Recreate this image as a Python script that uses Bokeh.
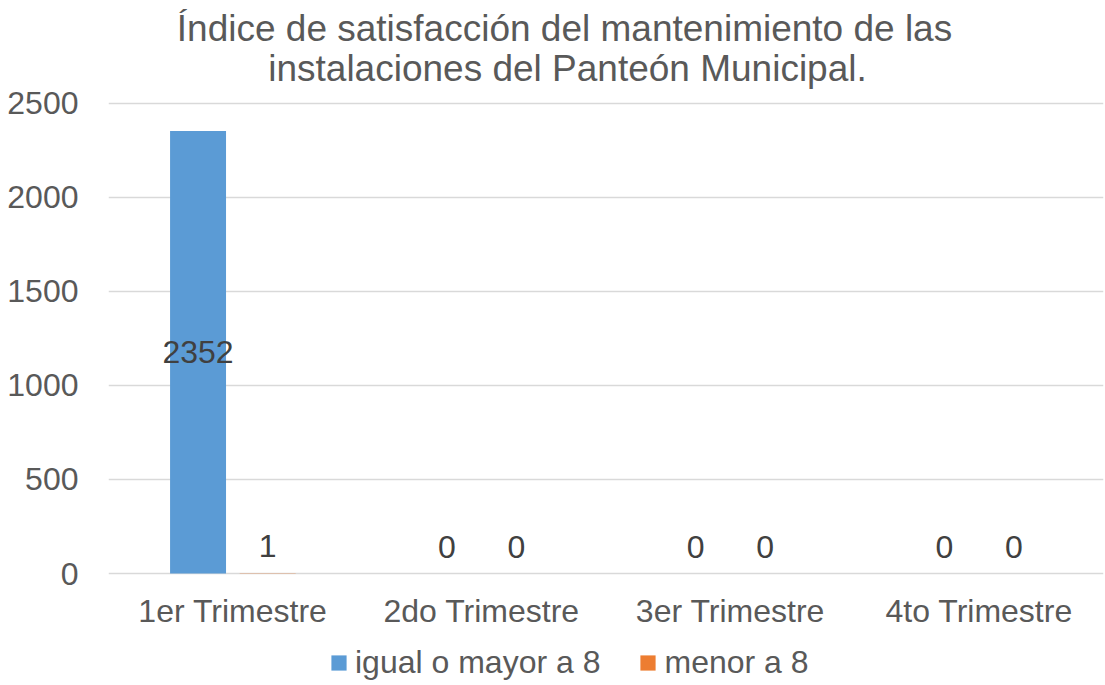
from bokeh.plotting import figure
from bokeh.models import (ColumnDataSource, FactorRange, Legend, LegendItem, Label,
                          FixedTicker, Range1d)
from bokeh.core.properties import value
from bokeh.transform import dodge
from bokeh.embed import file_html
from bokeh.resources import INLINE

categories = ["1er Trimestre", "2do Trimestre", "3er Trimestre", "4to Trimestre"]
igual_o_mayor = [2352, 0, 0, 0]
menor = [1, 0, 0, 0]
series_names = ["igual o mayor a 8", "menor a 8"]
title_lines = ["Índice de satisfacción del mantenimiento de las",
               "instalaciones del Panteón Municipal."]
y_ticks = [0, 500, 1000, 1500, 2000, 2500]

FONT = "Liberation Sans"
BLUE = "#5B9BD5"
ORANGE = "#ED7D31"
TXT = "#595959"

def label_cols(vals):
    ys = [v / 2 if v > 200 else v for v in vals]
    offs = [0 if v > 200 else -27 for v in vals]
    return ys, offs

y1, o1 = label_cols(igual_o_mayor)
y2, o2 = label_cols(menor)
src = ColumnDataSource(dict(cat=categories, a=igual_o_mayor, b=menor,
                            ay=y1, ao=o1, by=y2, bo=o2,
                            at=[str(v) for v in igual_o_mayor],
                            bt=[str(v) for v in menor],
                            base=[0] * len(categories)))

# the frame spans the whole canvas height so that the title, the category
# labels and the legend can be drawn inside it; 0 sits 112px above the bottom
p = figure(x_range=FactorRange(*categories, range_padding=0),
           y_range=Range1d(-595, 3045),
           width=1105, height=685, output_backend="svg", toolbar_location=None,
           title=None, x_axis_location=None,
           min_border_left=108, min_border_right=2,
           min_border_top=0, min_border_bottom=0)
p.outline_line_color = None
p.background_fill_color = "white"
p.border_fill_color = "white"

r1 = p.vbar(x=dodge("cat", -0.14, range=p.x_range), top="a", width=0.225,
            source=src, color=BLUE, line_color=None)
r2 = p.vbar(x=dodge("cat", 0.14, range=p.x_range), top="b", width=0.225,
            source=src, color=ORANGE, line_color=None)

for xo, yc, oc, tc in [(-0.14, "ay", "ao", "at"), (0.14, "by", "bo", "bt")]:
    p.text(x=dodge("cat", xo, range=p.x_range), y=yc, text=tc, y_offset=oc,
           source=src, text_align="center", text_baseline="middle",
           text_font=value(FONT), text_font_size="32px", text_color="#404040")

# category labels under the baseline
p.text(x="cat", y="base", text="cat", y_offset=37, source=src,
       text_align="center", text_baseline="middle",
       text_font=value(FONT), text_font_size="32px", text_color=TXT)

p.yaxis.ticker = FixedTicker(ticks=y_ticks)
p.yaxis.axis_line_color = None
p.yaxis.major_tick_line_color = None
p.yaxis.minor_tick_line_color = None
p.yaxis.major_label_text_font = FONT
p.yaxis.major_label_text_font_size = "32px"
p.yaxis.major_label_text_color = TXT
p.yaxis.major_label_standoff = 24

p.xgrid.grid_line_color = None
p.ygrid.ticker = FixedTicker(ticks=y_ticks)
p.ygrid.grid_line_color = "#D9D9D9"
p.ygrid.grid_line_width = 1.5

for txt, lx, ly in [(title_lines[0], 456, 657), (title_lines[1], 459, 617)]:
    p.add_layout(Label(x=lx, y=ly, x_units="screen", y_units="screen", text=txt,
                       text_align="center", text_baseline="middle",
                       text_font=FONT, text_font_size="37px", text_color=TXT))

legend = Legend(items=[LegendItem(label=series_names[0], renderers=[r1]),
                       LegendItem(label=series_names[1], renderers=[r2])],
                orientation="horizontal", location=(221, 4),
                glyph_width=19, glyph_height=19, label_standoff=7, spacing=38,
                padding=0, margin=0, border_line_color=None,
                background_fill_alpha=0,
                label_text_font=FONT, label_text_font_size="32px",
                label_text_color=TXT, label_height=36)
p.add_layout(legend, "center")

open("out.html", "w").write(file_html(p, INLINE))
